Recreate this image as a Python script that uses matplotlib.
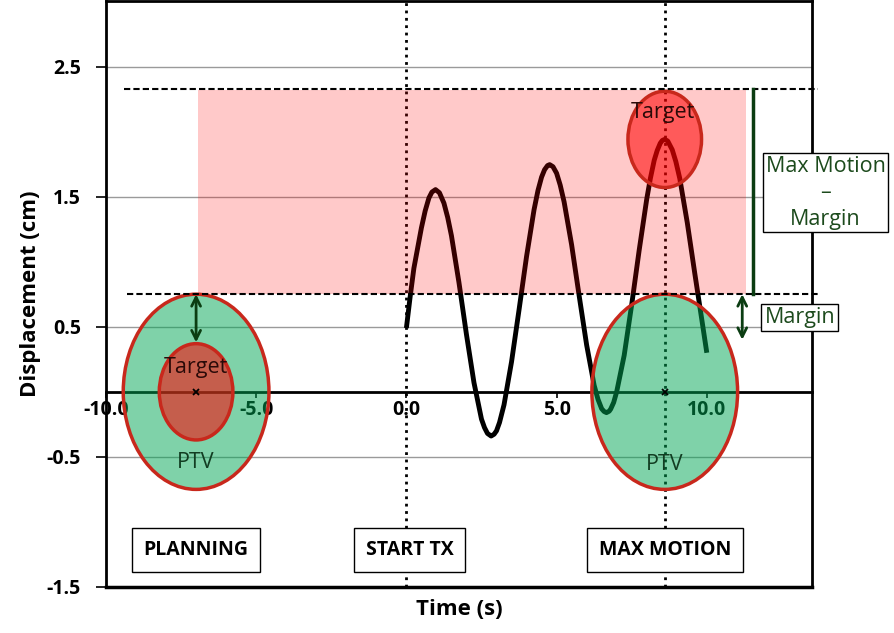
import matplotlib
matplotlib.use("Agg")
import matplotlib.pyplot as plt
from matplotlib.patches import Ellipse, Rectangle

plt.rcParams['font.family'] = ['Open Sans', 'DejaVu Sans']

# motion trace
time_s = [0.0, 0.125, 0.25, 0.5, 0.625, 0.75, 0.85, 0.97, 1.1, 1.25, 1.375, 1.5, 1.75, 2.0,
          2.25, 2.5, 2.6, 2.7, 2.82, 2.92, 3.0, 3.1, 3.25, 3.5, 3.75, 4.0, 4.25, 4.38,
          4.5, 4.6, 4.7, 4.77, 4.88, 5.0, 5.12, 5.25, 5.5, 5.75, 6.0, 6.25, 6.38, 6.5,
          6.58, 6.66, 6.75, 6.8, 6.9, 7.0, 7.25, 7.5, 7.75, 8.0, 8.12, 8.25, 8.35,
          8.45, 8.52, 8.6, 8.7, 8.85, 8.97, 9.1, 9.35, 9.6, 9.85, 10.0]
displacement = [0.49, 0.73, 0.95, 1.26, 1.39, 1.49, 1.535, 1.554, 1.53, 1.45, 1.34, 1.20, 0.84, 0.44,
                0.07, -0.21, -0.275, -0.32, -0.34, -0.326, -0.30, -0.236, -0.10, 0.23, 0.63, 1.04, 1.40, 1.547,
                1.65, 1.707, 1.739, 1.746, 1.73, 1.68, 1.589, 1.46, 1.13, 0.74, 0.36, 0.05, -0.059, -0.13,
                -0.151, -0.16, -0.149, -0.133, -0.082, 0.0, 0.28, 0.67, 1.09, 1.48, 1.638, 1.78, 1.855,
                1.91, 1.932, 1.94, 1.927, 1.86, 1.769, 1.64, 1.30, 0.91, 0.53, 0.30]

x_ticks = [-10, -5, 0, 5, 10]
y_ticks = [-1.5, -0.5, 0.5, 1.5, 2.5]

planning_t = -7.0
max_motion_t = 8.6
margin_top = 0.75
motion_top = 2.33
ptv_size = (4.85, 1.5)
target_size = (2.45, 0.74)
target_peak = 1.94

dark_green = '#0b3d12'
edge_red = '#c8281c'

fig = plt.figure(figsize=(8.95, 6.33), dpi=100)
ax = fig.add_axes([0.1184, 0.0727, 0.7888, 0.9250])
ax.set_xlim(-10, 13.5)
ax.set_ylim(-1.5, 3.0)

# frame + x axis crossing at zero
for s in ['left', 'right', 'top', 'bottom']:
    ax.spines[s].set_linewidth(2)
    ax.spines[s].set_color('black')
ax.spines['bottom'].set_position(('data', 0))
ax.axhline(-1.5, color='black', lw=2.5, clip_on=False, zorder=8)

ax.set_xticks(x_ticks)
ax.set_xticklabels(['%.1f' % v for v in x_ticks])
ax.set_yticks(y_ticks)
ax.set_yticklabels(['%.1f' % v for v in y_ticks])
ax.tick_params(axis='x', direction='out', length=4, width=1.2, labelsize=14, pad=2)
ax.tick_params(axis='y', direction='out', length=7, width=1.2, labelsize=14, pad=11)
for lab in ax.get_xticklabels() + ax.get_yticklabels():
    lab.set_fontweight('bold')
ax.set_axisbelow(True)
ax.yaxis.grid(True, color='#9a9a9a', lw=1)

ax.set_xlabel('Time (s)', fontsize=16, fontweight='bold', labelpad=0)
ax.xaxis.set_label_coords(0.5, -0.02)
ax.set_ylabel('Displacement (cm)', fontsize=16, fontweight='bold', labelpad=4)

# motion curve
ax.plot(time_s, displacement, color='black', lw=3.5, solid_capstyle='butt',
        solid_joinstyle='round', zorder=2)

# dotted markers for start of treatment and max motion
ax.axvline(0, color='black', ls=':', lw=2, zorder=2)
ax.axvline(max_motion_t, color='black', ls=':', lw=2, zorder=2)

# max motion minus margin region
ax.add_patch(Rectangle((-6.93, margin_top), 11.3 + 6.93, motion_top - 0.01 - margin_top,
                       facecolor=(1, 0, 0, 0.21), edgecolor='none', zorder=3))
ax.plot([-9.4, 13.7], [motion_top, motion_top], color='black', ls=(0, (3, 1.5)), lw=1.5,
        clip_on=False, zorder=6)
ax.plot([-9.3, 13.7], [margin_top, margin_top], color='black', ls=(0, (3, 1.5)), lw=1.5,
        clip_on=False, zorder=6)

# PTV and target ellipses
for cx, cy in [(planning_t, 0.0), (max_motion_t, 0.0)]:
    ax.add_patch(Ellipse((cx, cy), ptv_size[0], ptv_size[1], facecolor=(0, 0.65, 0.33, 0.5),
                         edgecolor=edge_red, lw=2.5, zorder=4))
for cx, cy in [(planning_t, 0.0), (max_motion_t, target_peak)]:
    ax.add_patch(Ellipse((cx, cy), target_size[0], target_size[1], facecolor=(1, 0, 0, 0.55),
                         edgecolor=edge_red, lw=2.5, zorder=5))
ax.plot([planning_t, max_motion_t], [0, 0], ls='none', marker='x', ms=4, mew=1.3,
        color='black', zorder=6)

ax.text(planning_t, 0.19, 'Target', fontsize=15.5, ha='center', va='center', color='#2a0a08', zorder=7)
ax.text(max_motion_t - 0.05, 2.15, 'Target', fontsize=15.5, ha='center', va='center', color='#2a0a08', zorder=7)
ax.text(planning_t, -0.54, 'PTV', fontsize=15.5, ha='center', va='center', color='#123d22', zorder=7)
ax.text(max_motion_t, -0.56, 'PTV', fontsize=15.5, ha='center', va='center', color='#123d22', zorder=7)

# margin arrows and bracket
arrow = dict(arrowstyle='<->', color=dark_green, lw=2, shrinkA=0, shrinkB=0, mutation_scale=16)
ax.annotate('', xy=(planning_t, margin_top), xytext=(planning_t, 0.38), arrowprops=arrow, zorder=7)
ax.annotate('', xy=(11.18, margin_top), xytext=(11.18, 0.40), arrowprops=arrow,
            annotation_clip=False, zorder=7)
ax.plot([11.55, 11.55], [motion_top, margin_top], color=dark_green, lw=2.5, zorder=7)

ax.text(13.95, 1.53, 'Max Motion\n–\nMargin', fontsize=15.5, ha='center', va='center',
        color='#1c4a1c', linespacing=1.35, clip_on=False, zorder=9,
        bbox=dict(boxstyle='square,pad=0.12', fc='white', ec='black', lw=1))
ax.text(13.1, 0.57, 'Margin', fontsize=15.5, ha='center', va='center', color='#1c4a1c',
        clip_on=False, zorder=9,
        bbox=dict(boxstyle='square,pad=0.15', fc='white', ec='black', lw=1))

# phase labels
for xc, label in [(planning_t, 'PLANNING'), (0.1, 'START TX'), (max_motion_t, 'MAX MOTION')]:
    ax.text(xc, -1.215, label, fontsize=14, fontweight='bold', ha='center', va='center',
            zorder=9, bbox=dict(boxstyle='square,pad=0.6', fc='white', ec='black', lw=1))

fig.savefig('out.png', dpi=100)
